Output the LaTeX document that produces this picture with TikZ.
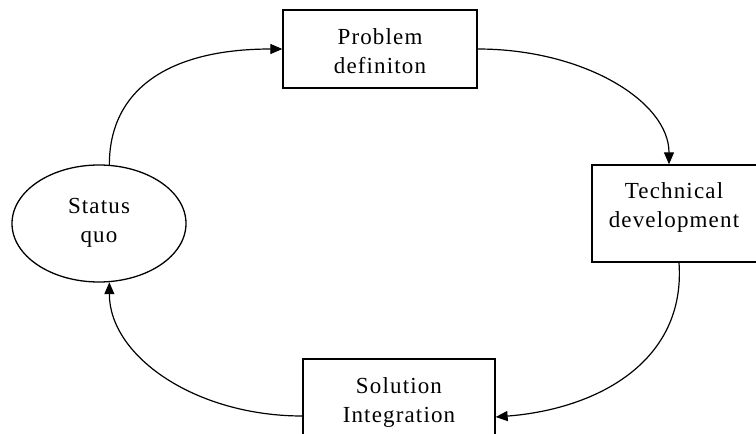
\documentclass[tikz,border=0pt]{standalone}
\usepackage{fontspec}
\setmainfont{Liberation Serif}[LetterSpace=5]
\usetikzlibrary{arrows.meta,shapes.geometric}
\begin{document}
\begin{tikzpicture}[x=1pt,y=-1pt,
  stage/.style={draw,line width=1.3pt,rectangle,inner sep=0pt},
  loopnode/.style={draw,line width=1.3pt,ellipse,inner sep=0pt},
  caption/.style={align=center,font=\fontsize{23}{29}\selectfont,inner sep=0pt},
  flow/.style={line width=1.2pt,-{Triangle[length=12pt,width=10pt]}}]
\clip (0,0) rectangle (756,434);
\fill[white] (0,0) rectangle (756,434);

% stages of the cycle
\node[stage,minimum width=194pt,minimum height=78pt] (problem) at (380,49) {};
\node[stage,minimum width=165pt,minimum height=97pt] (tech) at (674.5,213.5) {};
\node[stage,minimum width=192pt,minimum height=87pt] (sol) at (399,402.5) {};
\node[loopnode,minimum width=174pt,minimum height=117pt] (status) at (99,223.5) {};

% captions
\node[caption] (problemtxt) at (380,51) {Problem\\definiton};
\node[caption] (techtxt) at (674,207.5) {Technical\\development};
\node[caption] (soltxt) at (399,402.5) {Solution\\Integration};
\node[caption] (statustxt) at (99,222.5) {Status\\quo};

% curved connectors
\draw[flow] (status.80) .. controls +(0,-75) and +(-114,0) .. (problem.west);
\draw[flow] (problem.east) .. controls +(106,0) and +(0,-63) .. ([xshift=-5.5pt]tech.north);
\draw[flow] ([xshift=4.5pt]tech.south) .. controls +(7,98) and +(103,-8) .. ([yshift=-14.5pt]sol.east);
\draw[flow] ([yshift=-13.5pt]sol.west) .. controls +(-107,0) and +(0,74) .. (status.-80);
\end{tikzpicture}
\end{document}
